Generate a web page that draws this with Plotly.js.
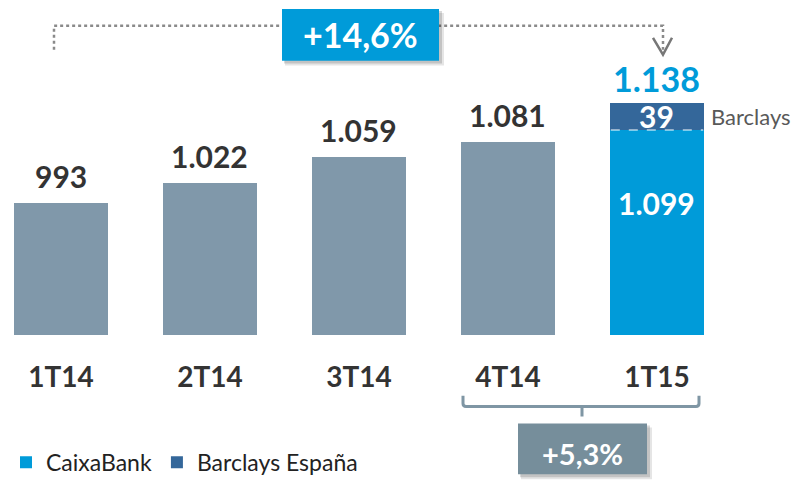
<!DOCTYPE html>
<html>
<head>
<meta charset="utf-8">
<script src="https://cdn.plot.ly/plotly-3.0.1.min.js"></script>
<style>html,body{margin:0;padding:0;background:#fff;}#chart{width:792px;height:484px;}</style>
</head>
<body>
<div id="chart"></div>
<script>
// ---- data ----
const categories = ["1T14", "2T14", "3T14", "4T14", "1T15"];
const caixaValues = [993, 1022, 1059, 1081, 1099];
const barclaysValues = [0, 0, 0, 0, 39];
const growthTotal = "+14,6%";
const growthQuarter = "+5,3%";
const seriesNames = ["CaixaBank", "Barclays España"];
const barclaysLabel = "Barclays";

// ---- helpers ----
const W = 792, H = 484, MT = 0, MB = 147;
const PH = H - MT - MB;
const px = x => x / W;
const py = y => 1 - (y - MT) / PH;
function fmt(v) { return String(v).replace(/\B(?=(\d{3})+(?!\d))/g, "."); }

const FONT = "Lato, 'Open Sans', sans-serif";
const GREY = "#8098aa";
const BLUE = "#009bd9";
const DARK = "#34679a";
const TXT = "#333333";

const n = categories.length;
const last = n - 1;
const totals = caixaValues.map((v, i) => v + barclaysValues[i]);

const traces = [
  { type: "bar", x: categories.slice(0, last), y: caixaValues.slice(0, last),
    marker: { color: GREY }, showlegend: false, hoverinfo: "skip" },
  { type: "bar", name: seriesNames[0], x: [categories[last]], y: [caixaValues[last]],
    marker: { color: BLUE } },
  { type: "bar", name: seriesNames[1], x: [categories[last]], y: [barclaysValues[last]],
    marker: { color: DARK } }
];

const annotations = [];
for (let i = 0; i < last; i++) {
  annotations.push({ x: categories[i], y: totals[i], xref: "x", yref: "y", text: fmt(totals[i]),
    showarrow: false, yanchor: "middle", yshift: 27,
    font: { family: FONT, size: 30, color: TXT, weight: "bold" } });
}
annotations.push({ x: categories[last], y: totals[last], xref: "x", yref: "y", text: fmt(totals[last]),
  showarrow: false, yanchor: "middle", yshift: 25,
  font: { family: FONT, size: 34, color: BLUE, weight: "bold" } });
annotations.push({ x: categories[last], y: caixaValues[last] + barclaysValues[last] / 2, xref: "x", yref: "y",
  text: fmt(barclaysValues[last]), showarrow: false, yanchor: "middle", yshift: 1,
  font: { family: FONT, size: 30, color: "#ffffff", weight: "bold" } });
annotations.push({ x: categories[last], y: caixaValues[last], xref: "x", yref: "y",
  text: fmt(caixaValues[last]), showarrow: false, yanchor: "middle", yshift: -73,
  font: { family: FONT, size: 30, color: "#ffffff", weight: "bold" } });
annotations.push({ x: px(709), y: caixaValues[last] + barclaysValues[last] / 2, xref: "paper", yref: "y",
  text: barclaysLabel, showarrow: false, xanchor: "left", yanchor: "middle",
  font: { family: FONT, size: 22, color: "#595959" } });
annotations.push({ x: px(360.5), y: py(35), xref: "paper", yref: "paper", text: growthTotal,
  showarrow: false, xanchor: "center", yanchor: "middle",
  font: { family: FONT, size: 34, color: "#ffffff", weight: "bold" } });
annotations.push({ x: px(582.5), y: py(456), xref: "paper", yref: "paper", text: growthQuarter,
  showarrow: false, xanchor: "center", yanchor: "middle",
  font: { family: FONT, size: 29, color: "#ffffff", weight: "bold" } });

const dotted = { color: "#8a8a8a", width: 2.5, dash: "dot" };
const shapes = [
  // top dotted connector
  { type: "path", xref: "paper", yref: "paper", layer: "above",
    path: `M${px(54)},${py(50)} L${px(54)},${py(26)} L${px(663)},${py(26)} L${px(663)},${py(50)}`,
    line: dotted },
  { type: "path", xref: "paper", yref: "paper", layer: "above",
    path: `M${px(653)},${py(38)} L${px(663)},${py(55)} L${px(672)},${py(38)}`,
    line: { color: "#777777", width: 2.5 } },
  // box shadow + box for total growth
  { type: "rect", xref: "paper", yref: "paper", layer: "above",
    x0: px(285), x1: px(444), y0: py(13), y1: py(66), fillcolor: "rgba(0,0,0,0.10)", line: { width: 0 } },
  { type: "rect", xref: "paper", yref: "paper", layer: "above",
    x0: px(284), x1: px(442), y0: py(11), y1: py(64), fillcolor: "rgba(0,0,0,0.15)", line: { width: 0 } },
  { type: "rect", xref: "paper", yref: "paper", layer: "above",
    x0: px(282), x1: px(439), y0: py(9), y1: py(61), fillcolor: BLUE, line: { width: 0 } },
  // dashed separator in the last bar
  { type: "line", xref: "x", yref: "y", layer: "above",
    x0: last - 0.31, x1: last + 0.31, y0: caixaValues[last], y1: caixaValues[last],
    line: { color: "#ffffff", width: 1, dash: "dash" } },
  // bottom bracket
  { type: "path", xref: "paper", yref: "paper", layer: "above",
    path: `M${px(463)},${py(398)} L${px(463)},${py(406)} Q${px(463)},${py(409)} ${px(466)},${py(409)} L${px(696)},${py(409)} Q${px(699)},${py(409)} ${px(699)},${py(406)} L${px(699)},${py(398)} M${px(582)},${py(409)} L${px(582)},${py(419)}`,
    line: { color: "#7f96a4", width: 3 } },
  // box shadow + box for quarter growth
  { type: "rect", xref: "paper", yref: "paper", layer: "above",
    x0: px(521), x1: px(652), y0: py(430), y1: py(482), fillcolor: "rgba(0,0,0,0.10)", line: { width: 0 } },
  { type: "rect", xref: "paper", yref: "paper", layer: "above",
    x0: px(520), x1: px(650), y0: py(428), y1: py(480), fillcolor: "rgba(0,0,0,0.15)", line: { width: 0 } },
  { type: "rect", xref: "paper", yref: "paper", layer: "above",
    x0: px(518), x1: px(647), y0: py(426), y1: py(477), fillcolor: "#768e9b", line: { width: 0 } }
];

const layout = {
  width: W, height: H,
  margin: { l: 0, r: 0, t: MT, b: MB, pad: 0 },
  paper_bgcolor: "#ffffff", plot_bgcolor: "#ffffff",
  barmode: "stack", bargap: 0.369,
  font: { family: FONT, color: TXT },
  xaxis: { type: "category", range: [-0.409, 4.906], showgrid: false, zeroline: false,
    showline: false, ticks: "", ticklabelstandoff: 23,
    tickfont: { family: FONT, size: 28, color: TXT, weight: "bold" }, fixedrange: true },
  yaxis: { range: [800, 800 + PH / 0.6897], visible: false, showgrid: false, zeroline: false, fixedrange: true },
  showlegend: true,
  legend: { orientation: "h", x: px(6), y: py(465), xanchor: "left", yanchor: "middle",
    font: { family: FONT, size: 23, color: "#222222" }, traceorder: "normal", itemclick: false,
    itemwidth: 30, bgcolor: "rgba(0,0,0,0)" },
  annotations: annotations,
  shapes: shapes
};

Plotly.newPlot("chart", traces, layout, { displayModeBar: false, staticPlot: true });
</script>
</body>
</html>
